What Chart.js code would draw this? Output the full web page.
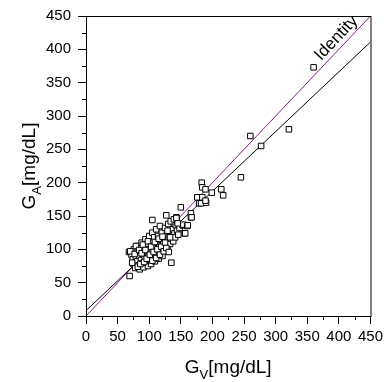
<!DOCTYPE html>
<html>
<head>
<meta charset="utf-8">
<script src="https://cdn.jsdelivr.net/npm/chart.js@4"></script>
<style>
  body { margin: 0; background: #fff; }
  canvas { display: block; }
</style>
</head>
<body>
<canvas id="chart" width="387" height="382"></canvas>
<script>
// venous vs arterial glucose, mg/dL
const gvValues = [
  69, 68, 72, 74, 75, 76, 78, 79, 80, 81, 82, 83, 84, 85, 86, 87, 88, 89, 90, 91,
  92, 93, 94, 95, 96, 97, 98, 99, 100, 100, 101, 102, 103, 104, 105, 106, 107, 108, 109, 110,
  111, 112, 113, 114, 115, 116, 117, 118, 119, 120, 121, 122, 123, 124, 125, 126, 127, 128, 129, 130,
  131, 132, 133, 134, 135, 136, 137, 138, 139, 140, 141, 142, 143, 144, 145, 146, 148, 150, 153, 154,
  156, 160, 166, 166, 105, 143, 145, 70, 73, 77, 79, 82, 84, 86, 88, 90, 92, 94, 96, 98,
  101, 103, 105, 107, 109, 111, 113, 115, 117, 119, 121, 123, 125, 127, 129, 131, 133, 167, 161, 157,
  176, 179, 182, 183, 184, 184, 189, 190, 189, 199, 214, 217, 245, 260, 277, 321, 360
];
const gaValues = [
  60, 96, 92, 85, 78, 100, 72, 88, 95, 82, 105, 76, 90, 70, 98, 84, 110, 79, 93, 73,
  102, 87, 115, 80, 96, 108, 75, 90, 120, 84, 100, 112, 78, 95, 125, 88, 105, 118, 82, 98,
  130, 92, 110, 120, 86, 103, 135, 96, 114, 125, 90, 108, 118, 100, 132, 112, 151, 122, 104, 138,
  116, 126, 108, 142, 80, 120, 130, 112, 145, 124, 118, 136, 148, 128, 139, 122, 132, 163, 136, 137,
  124, 135, 148, 154, 144, 147, 139, 97, 80, 93, 105, 74, 99, 78, 94, 107, 81, 99, 86, 112,
  92, 104, 83, 96, 111, 87, 100, 116, 92, 104, 119, 97, 110, 102, 128, 96, 118, 148, 136, 124,
  178, 169, 169, 200, 193, 178, 190, 170, 173, 185, 190, 181, 208, 270, 255, 280, 373
];

// reference lines
const identityX = [0, 450];
const identityY = [0, 450];
const fitX = [0, 450];
const fitY = [8, 411];

const axisMin = 0;
const axisMax = 450;
const identityLabel = 'Identity';
const identityLabelAt = 407;

const FONT = '"Liberation Sans", Arial, sans-serif';
Chart.defaults.font.family = FONT;
Chart.defaults.font.size = 15;
Chart.defaults.color = '#000';

function toPoints(xs, ys) {
  return xs.map((x, i) => ({ x: x, y: ys[i] }));
}

// text with a subscript part, e.g. G + A + [mg/dL]
function drawSubText(ctx, main, sub, rest, x, y, size) {
  const big = size + 'px ' + FONT;
  const small = Math.round(size * 0.7) + 'px ' + FONT;
  ctx.font = big;
  const w1 = ctx.measureText(main).width;
  const w3 = ctx.measureText(rest).width;
  ctx.font = small;
  const w2 = ctx.measureText(sub).width;
  let start = x - (w1 + w2 + w3) / 2;
  ctx.textAlign = 'left';
  ctx.textBaseline = 'alphabetic';
  ctx.font = big;
  ctx.fillText(main, start, y);
  ctx.font = small;
  ctx.fillText(sub, start + w1, y + size * 0.3);
  ctx.font = big;
  ctx.fillText(rest, start + w1 + w2, y);
}

const framePlugin = {
  id: 'frame',
  afterDraw(chart) {
    const ctx = chart.ctx;
    const area = chart.chartArea;
    const xs = chart.scales.x;
    const ys = chart.scales.y;
    ctx.save();
    ctx.strokeStyle = '#000';
    ctx.lineWidth = 1;
    ctx.strokeRect(area.left + 0.5, area.top + 0.5, area.right - area.left, area.bottom - area.top);

    // minor ticks
    ctx.beginPath();
    for (let v = 25; v < axisMax; v += 50) {
      const px = Math.round(xs.getPixelForValue(v)) + 0.5;
      ctx.moveTo(px, area.bottom);
      ctx.lineTo(px, area.bottom + 4);
      const py = Math.round(ys.getPixelForValue(v)) + 0.5;
      ctx.moveTo(area.left, py);
      ctx.lineTo(area.left - 4, py);
    }
    ctx.stroke();

    // axis titles
    ctx.fillStyle = '#000';
    drawSubText(ctx, 'G', 'V', '[mg/dL]', (area.left + area.right) / 2, 373, 19);
    ctx.save();
    ctx.translate(35, (area.top + area.bottom) / 2);
    ctx.rotate(-Math.PI / 2);
    drawSubText(ctx, 'G', 'A', '[mg/dL]', 0, 0, 19);
    ctx.restore();

    // identity label along the line
    const p0 = { x: xs.getPixelForValue(identityX[0]), y: ys.getPixelForValue(identityY[0]) };
    const p1 = { x: xs.getPixelForValue(identityX[1]), y: ys.getPixelForValue(identityY[1]) };
    const ang = Math.atan2(p1.y - p0.y, p1.x - p0.x);
    ctx.translate(xs.getPixelForValue(identityLabelAt), ys.getPixelForValue(identityLabelAt));
    ctx.rotate(ang);
    ctx.font = '17px ' + FONT;
    ctx.textAlign = 'center';
    ctx.textBaseline = 'bottom';
    ctx.fillText(identityLabel, 0, -1);
    ctx.restore();
  }
};

new Chart(document.getElementById('chart'), {
  type: 'scatter',
  data: {
    datasets: [
      {
        label: 'data',
        data: toPoints(gvValues, gaValues),
        pointStyle: 'rect',
        pointRadius: 3.9,
        borderColor: '#000',
        backgroundColor: '#fff',
        borderWidth: 1
      },
      {
        label: 'fit',
        type: 'line',
        data: toPoints(fitX, fitY),
        borderColor: '#000',
        borderWidth: 1,
        pointRadius: 0,
        fill: false
      },
      {
        label: 'identity',
        type: 'line',
        data: toPoints(identityX, identityY),
        borderColor: '#8b1a8b',
        borderWidth: 1,
        pointRadius: 0,
        fill: false
      }
    ]
  },
  options: {
    responsive: false,
    animation: false,
    layout: { padding: { top: 16, right: 14, left: 0, bottom: 0 } },
    plugins: {
      legend: { display: false },
      tooltip: { enabled: false }
    },
    scales: {
      x: {
        type: 'linear',
        min: axisMin,
        max: axisMax,
        afterFit(s) { s.height = 66; },
        ticks: { stepSize: 50, padding: 4, maxRotation: 0, autoSkip: false },
        grid: { drawOnChartArea: false, drawTicks: true, tickLength: 8, color: '#000' },
        border: { display: true, color: '#000' }
      },
      y: {
        type: 'linear',
        min: axisMin,
        max: axisMax,
        afterFit(s) { s.width = 86; },
        ticks: { stepSize: 50, padding: 7, autoSkip: false },
        grid: { drawOnChartArea: false, drawTicks: true, tickLength: 8, color: '#000' },
        border: { display: true, color: '#000' }
      }
    }
  },
  plugins: [framePlugin]
});
</script>
</body>
</html>
